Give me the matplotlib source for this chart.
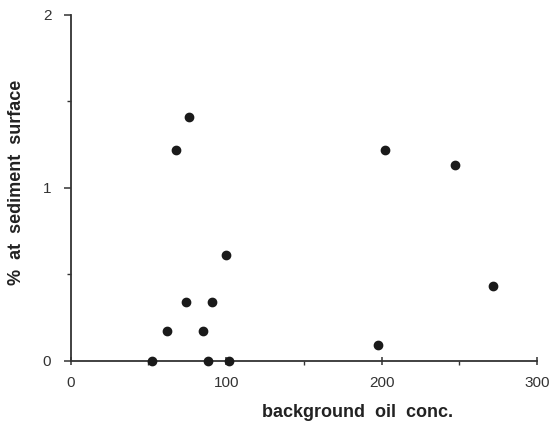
import matplotlib.pyplot as plt
from matplotlib.ticker import MultipleLocator

# background oil concentration vs % at sediment surface
oil_conc = [52, 62, 68, 74, 76, 85, 88, 91, 100, 102, 198, 202, 247, 272]
pct_surface = [0.0, 0.17, 1.22, 0.34, 1.41, 0.17, 0.0, 0.34, 0.61, 0.0, 0.09, 1.22, 1.13, 0.43]

plt.rcParams['font.family'] = ['Liberation Sans', 'DejaVu Sans']

fig = plt.figure(figsize=(5.53, 4.24), dpi=100)
ax = fig.add_axes([0.128, 0.149, 0.843, 0.816])

ax.scatter(oil_conc, pct_surface, s=36, color='#1a1a1a', zorder=3, clip_on=False)

ax.set_xlim(0, 300)
ax.set_ylim(0, 2)
ax.spines['top'].set_visible(False)
ax.spines['right'].set_visible(False)
for side in ['left', 'bottom']:
    ax.spines[side].set_linewidth(1.3)
    ax.spines[side].set_color('#333333')

ax.set_xticks([0, 100, 200, 300])
ax.set_yticks([0, 1, 2])
ax.xaxis.set_minor_locator(MultipleLocator(50))
ax.yaxis.set_minor_locator(MultipleLocator(0.5))
ax.tick_params(axis='x', which='major', direction='inout', length=6, width=1.1,
               colors='#333333', labelsize=11, pad=8)
ax.tick_params(axis='x', which='minor', direction='out', length=3, width=1.0, colors='#333333')
ax.tick_params(axis='y', which='major', direction='out', length=5, width=1.1,
               colors='#333333', labelsize=11, pad=9)
ax.tick_params(axis='y', which='minor', direction='out', length=3, width=1.0, colors='#333333')

ax.set_xlabel('background  oil  conc.', fontsize=13, fontweight='bold', color='#222222')
ax.xaxis.set_label_coords(0.615, -0.125)
ax.set_ylabel('%  at  sediment  surface', fontsize=13, fontweight='bold', color='#222222')
ax.yaxis.set_label_coords(-0.098, 0.515)

fig.savefig('out.png', dpi=100)
